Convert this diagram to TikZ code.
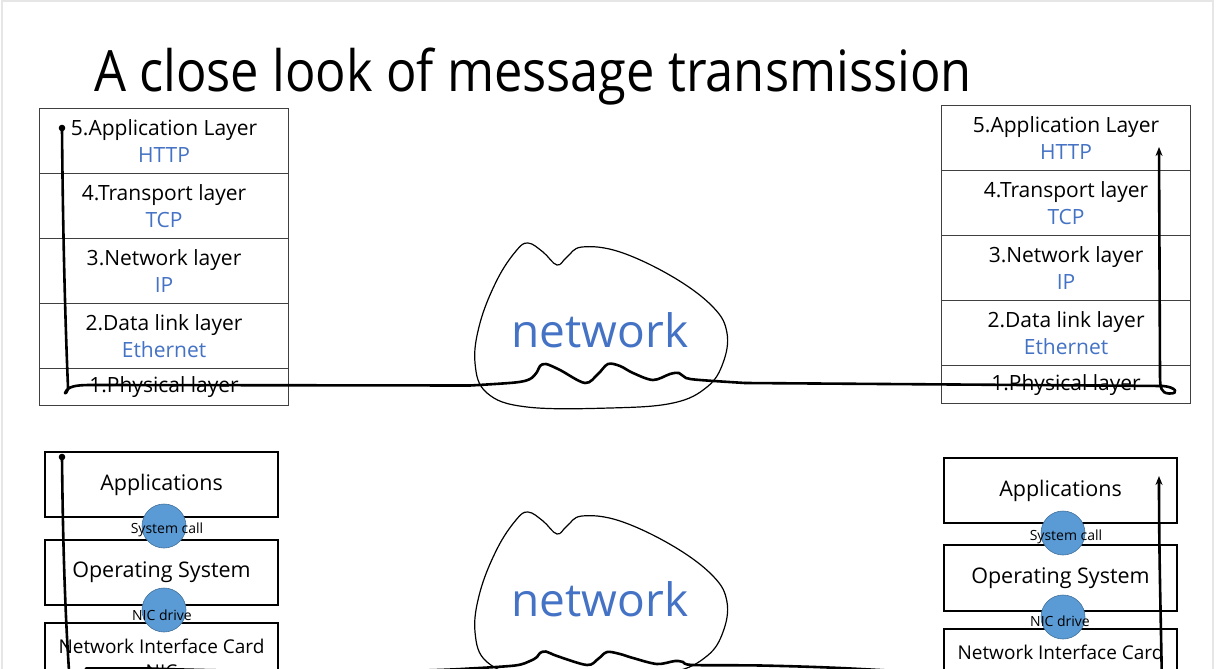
\documentclass[tikz,border=0pt]{standalone}
\usepackage{fontspec}
\setmainfont{Open Sans}
\usetikzlibrary{arrows.meta}
\definecolor{txtblue}{HTML}{4472C4}
\definecolor{circfill}{HTML}{5B9BD5}
\definecolor{circdraw}{HTML}{41719C}
\definecolor{framegray}{HTML}{E6E6E6}
\begin{document}
\begin{tikzpicture}[x=1pt,y=-1pt,
  layer/.style={draw=black!75, line width=1.1pt, minimum width=249pt, minimum height=65pt, inner sep=0pt, align=center, anchor=north west, font=\fontsize{21}{27.5}\selectfont},
  lowlayer/.style={layer, minimum height=38pt},
  osbox/.style={draw=black, line width=2pt, minimum width=233pt, minimum height=65pt, inner sep=0pt, align=center, anchor=north west, font=\fontsize{21.5}{25}\selectfont},
  nicbox/.style={osbox, minimum height=72pt, font=\fontsize{19}{25}\selectfont},
  iface/.style={circle, fill=circfill, draw=circdraw, line width=0.6pt, minimum size=44pt, inner sep=0pt},
  ifacelabel/.style={inner sep=0pt, font=\fontsize{14}{15}\selectfont},
  wire/.style={line width=2.6pt, line cap=round, line join=round},
  cloudline/.style={line width=1.2pt},
  nettext/.style={text=txtblue, font=\fontsize{46}{50}\selectfont},
  tip/.style={-{Stealth[length=9pt,width=7pt]}}
]
\clip (0,0) rectangle (1216,669);
\fill[white] (0,0) rectangle (1216,669);
\draw[framegray, line width=1.5pt] (2,1) rectangle (1213,720);

% title
\node[anchor=base west, inner sep=0pt, font=\fontsize{57}{60}\selectfont] (title) at (94,92) {\scalebox{0.888}[1]{A close look of message transmission}};

% top-left stack
\node[layer] (l5) at (39,108) {5.Application Layer\\\textcolor{txtblue}{HTTP}};
\node[layer] (l4) at (39,173) {4.Transport layer\\\textcolor{txtblue}{TCP}};
\node[layer] (l3) at (39,238) {3.Network layer\\\textcolor{txtblue}{IP}};
\node[layer] (l2) at (39,303) {2.Data link layer\\\textcolor{txtblue}{Ethernet}};
\node[lowlayer, minimum height=37pt] (l1) at (39,368) {\raisebox{-3pt}{1.Physical layer}};

% top-right stack
\node[layer] (r5) at (941,105) {5.Application Layer\\\textcolor{txtblue}{HTTP}};
\node[layer] (r4) at (941,170) {4.Transport layer\\\textcolor{txtblue}{TCP}};
\node[layer] (r3) at (941,235) {3.Network layer\\\textcolor{txtblue}{IP}};
\node[layer] (r2) at (941,300) {2.Data link layer\\\textcolor{txtblue}{Ethernet}};
\node[lowlayer] (r1) at (941,365) {\raisebox{-2pt}{1.Physical layer}};

% bottom-left stack
\node[osbox] (la) at (44,451) {Applications};
\node[osbox] (lo) at (44,539) {Operating System};
\node[nicbox] (ln) at (44,622) {Network Interface Card\\NIC};
\node[iface] (lc1) at (164,526) {};
\node[iface] (lc2) at (164,610) {};
\node[ifacelabel] (lt1) at (167,530) {System call};
\node[ifacelabel] (lt2) at (162,615) {NIC drive};

% bottom-right stack
\node[osbox] (ra) at (943,457) {Applications};
\node[osbox, minimum height=66pt] (ro) at (943,544) {Operating System};
\node[nicbox] (rn) at (943,628) {Network Interface Card\\NIC};
\node[iface] (rc1) at (1063,533) {};
\node[iface] (rc2) at (1063,617) {};
\node[ifacelabel] (rt1) at (1066,537) {System call};
\node[ifacelabel] (rt2) at (1060,621) {NIC drive};

% clouds
\foreach \dy/\nm in {0/topnet,269/botnet}{
  \begin{scope}[shift={(0,\dy)}]
    \draw[cloudline] plot[smooth cycle, tension=0.65] coordinates {
      (528,243) (543,252) (557,265) (567,257) (582,247) (620,252) (673,277)
      (713,307) (727,333) (723,363) (707,387) (673,403) (610,408) (527,407)
      (487,393) (475,363) (480,323) (497,280) (516,251)};
    \node[nettext] (\nm) at (600,330) {network};
  \end{scope}
}

% top wire
\coordinate (tstart) at (62,128);
\coordinate (tend) at (1159,147);
\fill (tstart) circle (3.3);
\draw[wire] (tstart) .. controls (63,250) and (66,340) .. (68,387)
  .. controls (68,392) and (65,394) .. (65,393)
  .. controls (68,386) and (76,385) .. (92,385) -- (470,385.5);
\draw[wire] plot[smooth, tension=0.55] coordinates {
  (470,385.5) (515,382.5) (530,379) (537,372) (540,366) (546,364) (560,370)
  (585,383) (598,374) (608,364) (620,366) (633,373) (653,380) (670,374)
  (679,373) (686,378) (700,380) (745,383)};
\draw[wire, tip] (745,383) -- (1163,386)
  .. controls (1176,387) and (1180,394) .. (1169,393.5)
  .. controls (1161,393) and (1160,388) .. (1160,375) -- (tend);

% bottom wire
\coordinate (bstart) at (62,457);
\coordinate (bend) at (1159,476);
\fill (bstart) circle (3.3);
\draw[wire] (bstart) .. controls (63,560) and (66,630) .. (70,685);
\draw[wire] (86,668.5) -- (150,668.5) .. controls (250,672) and (400,673) .. (470,668.5);
\draw[wire] plot[smooth, tension=0.55] coordinates {
  (470,668.5) (515,665.5) (530,661) (537,657) (540,653) (546,651.5) (557,656)
  (587,665) (598,659) (607,652) (620,654) (633,658) (657,664) (675,661)
  (683,662) (693,665) (760,665.5) (840,668) (950,674)};
\draw[wire, tip] (1162,690) .. controls (1161,620) and (1159,560) .. (bend);
\end{tikzpicture}
\end{document}
